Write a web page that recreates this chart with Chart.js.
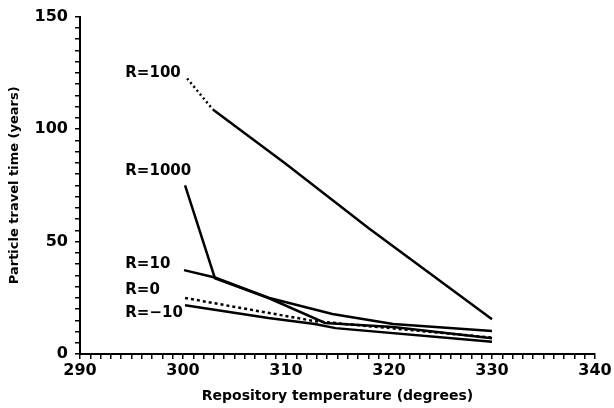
<!DOCTYPE html>
<html>
<head>
<meta charset="utf-8">
<script src="https://cdn.jsdelivr.net/npm/chart.js@4"></script>
<style>
  html, body { margin: 0; padding: 0; background: #fff; }
  #wrap { width: 614px; height: 408px; }
</style>
</head>
<body>
<div id="wrap"><canvas id="travelChart"></canvas></div>
<script>
// values
let r100Temp   = [300.4, 302.9, 310, 318, 330];
let r100Time   = [122.5, 108.7, 84.5, 56, 15.5];
let r1000Temp  = [300.2, 303.1, 308.3, 313.8, 320.4, 330];
let r1000Time  = [75, 33.7, 24.9, 13.8, 12, 7];
let r10Temp    = [300.1, 303.1, 308.3, 314.5, 320.4, 330];
let r10Time    = [37.3, 34, 25, 17.8, 13.3, 10.2];
let r0Temp     = [300.2, 312.8, 330];
let r0Time     = [24.9, 14.6, 7.3];
let rm10Temp   = [300.2, 308.3, 312.8, 314.8, 330];
let rm10Time   = [21.7, 16, 13.3, 11.5, 5.4];

let curveLabels = ['R=100', 'R=1000', 'R=10', 'R=0', 'R=\u221210'];

function toPoints(xs, ys) {
  return xs.map((x, i) => ({ x: x, y: ys[i] }));
}

let fontFamily = "'DejaVu Sans', sans-serif";

// curve names written next to the start of each line
let curveNames = {
  id: 'curveNames',
  afterDatasetsDraw(chart) {
    let ctx = chart.ctx;
    let xs = chart.scales.x, ys = chart.scales.y;
    let spots = [[294.4, 125], [294.4, 81.5], [294.4, 40], [294.4, 28.5], [294.4, 18]];
    ctx.save();
    ctx.fillStyle = '#000';
    ctx.font = 'bold 15px ' + fontFamily;
    ctx.textAlign = 'left';
    ctx.textBaseline = 'middle';
    curveLabels.forEach((txt, i) => {
      ctx.fillText(txt, xs.getPixelForValue(spots[i][0]), ys.getPixelForValue(spots[i][1]));
    });
    ctx.restore();
  }
};

let lineStyle = {
  borderColor: '#000',
  backgroundColor: '#000',
  borderWidth: 2.5,
  pointRadius: 0,
  fill: false,
  tension: 0
};

let travelData = {
  datasets: [
    Object.assign({}, lineStyle, {
      label: curveLabels[0],
      data: toPoints(r100Temp, r100Time),
      segment: { borderDash: c => c.p0DataIndex === 0 ? [2, 3] : undefined }
    }),
    Object.assign({}, lineStyle, { label: curveLabels[1], data: toPoints(r1000Temp, r1000Time) }),
    Object.assign({}, lineStyle, { label: curveLabels[2], data: toPoints(r10Temp, r10Time) }),
    Object.assign({}, lineStyle, { label: curveLabels[3], data: toPoints(r0Temp, r0Time), borderDash: [3, 3] }),
    Object.assign({}, lineStyle, { label: curveLabels[4], data: toPoints(rm10Temp, rm10Time) })
  ]
};

let travelOptions = {
  responsive: true,
  maintainAspectRatio: false,
  animation: false,
  layout: { padding: { top: 16, right: 19, left: 0, bottom: 0 } },
  plugins: {
    legend: { display: false },
    tooltip: { enabled: false }
  },
  scales: {
    x: {
      type: 'linear',
      min: 290,
      max: 340,
      afterFit: s => { s.height = 54; },
      border: { color: '#000', width: 2 },
      grid: { drawOnChartArea: false, color: '#000', tickLength: 5, lineWidth: 1.5 },
      ticks: {
        stepSize: 1,
        autoSkip: false,
        maxRotation: 0,
        padding: 2,
        color: '#000',
        font: { family: fontFamily, size: 16, weight: 'bold' },
        callback: v => Math.round(v) % 10 === 0 ? Math.round(v) : ''
      },
      title: {
        display: true,
        text: 'Repository temperature (degrees)',
        color: '#000',
        font: { family: fontFamily, size: 14, weight: 'bold' },
        padding: { top: 0, bottom: 3 }
      }
    },
    y: {
      min: 0,
      max: 150,
      afterFit: s => { s.width = 80; },
      border: { color: '#000', width: 2 },
      grid: { drawOnChartArea: false, color: '#000', tickLength: 5, lineWidth: 1.5 },
      ticks: {
        stepSize: 5,
        autoSkip: false,
        padding: 7,
        color: '#000',
        font: { family: fontFamily, size: 16, weight: 'bold' },
        callback: v => Math.round(v) % 50 === 0 ? Math.round(v) : ''
      },
      title: {
        display: true,
        text: 'Particle travel time (years)',
        color: '#000',
        font: { family: fontFamily, size: 13, weight: 'bold' },
        padding: { top: 7, bottom: 0 }
      }
    }
  }
};

new Chart(document.getElementById('travelChart').getContext('2d'), {
  type: 'line',
  data: travelData,
  options: travelOptions,
  plugins: [curveNames]
});
</script>
</body>
</html>
